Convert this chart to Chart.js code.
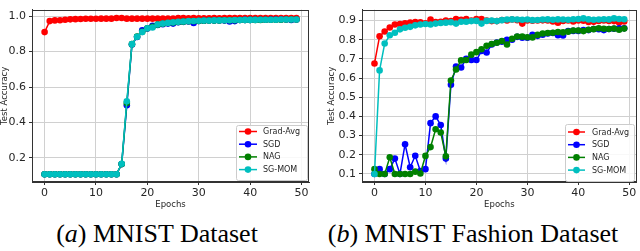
<!DOCTYPE html>
<html>
<head>
<meta charset="utf-8">
<script src="https://cdn.jsdelivr.net/npm/chart.js@4.4.1/dist/chart.umd.min.js"></script>
<style>
  html, body { margin:0; padding:0; background:#fff; }
  #wrap { position:relative; width:640px; height:251px; background:#fff; overflow:hidden; }
  canvas { position:absolute; top:0; }
  .cap { position:absolute; top:219px; height:30px; line-height:30px; font-family:"Liberation Serif","Times New Roman",serif; font-size:26px; color:#000; white-space:nowrap; transform:translateX(-50%); }
</style>
</head>
<body>
<div id="wrap">
  <canvas id="c1" width="320" height="215" style="left:0px"></canvas>
  <canvas id="c2" width="320" height="215" style="left:320px"></canvas>
  <div class="cap" style="left:157px">(<i>a</i>) MNIST Dataset</div>
  <div class="cap" style="left:473px">(<i>b</i>) MNIST Fashion Dataset</div>
</div>
<script>
// ---------- data ----------
const epochs = [0,1,2,3,4,5,6,7,8,9,10,11,12,13,14,15,16,17,18,19,20,21,22,23,24,25,26,27,28,29,30,31,32,33,34,35,36,37,38,39,40,41,42,43,44,45,46,47,48,49];
const seriesNames = ["Grad-Avg","SGD","NAG","SG-MOM"];
const xTickValues = [0,10,20,30,40,50];
const yTicksMnist = [0.2,0.4,0.6,0.8,1.0];
const yTicksFashion = [0.1,0.2,0.3,0.4,0.5,0.6,0.7,0.8,0.9];

// (a) MNIST
const mnistGradAvg = [0.910,0.972,0.976,0.977,0.980,0.982,0.983,0.984,0.985,0.985,0.985,0.986,0.986,0.986,0.990,0.990,0.986,0.986,0.986,0.986,0.986,0.986,0.986,0.986,0.987,0.987,0.990,0.990,0.988,0.990,0.988,0.988,0.988,0.989,0.988,0.989,0.989,0.989,0.989,0.989,0.989,0.989,0.989,0.989,0.989,0.989,0.989,0.989,0.989,0.990];
const mnistSGD = [0.108,0.108,0.108,0.108,0.108,0.108,0.108,0.108,0.108,0.108,0.108,0.108,0.108,0.108,0.108,0.165,0.497,0.840,0.882,0.920,0.930,0.946,0.950,0.955,0.958,0.958,0.966,0.968,0.970,0.962,0.973,0.974,0.975,0.975,0.976,0.975,0.970,0.972,0.978,0.979,0.979,0.980,0.980,0.980,0.981,0.981,0.981,0.981,0.978,0.981];
const mnistNAG = [0.108,0.108,0.108,0.108,0.108,0.108,0.108,0.108,0.108,0.108,0.108,0.108,0.108,0.108,0.108,0.165,0.510,0.842,0.885,0.912,0.932,0.940,0.952,0.957,0.961,0.964,0.967,0.969,0.971,0.972,0.973,0.974,0.975,0.975,0.976,0.977,0.977,0.977,0.978,0.978,0.979,0.979,0.979,0.980,0.980,0.980,0.980,0.981,0.981,0.981];
const mnistSGMOM = [0.108,0.108,0.108,0.108,0.108,0.108,0.108,0.108,0.108,0.108,0.108,0.108,0.108,0.108,0.108,0.167,0.520,0.842,0.884,0.910,0.932,0.936,0.953,0.958,0.962,0.965,0.968,0.970,0.972,0.973,0.974,0.975,0.975,0.976,0.976,0.977,0.977,0.978,0.978,0.979,0.979,0.979,0.980,0.980,0.980,0.980,0.981,0.981,0.981,0.981];

// (b) MNIST Fashion
const fashionGradAvg = [0.676,0.818,0.843,0.864,0.879,0.882,0.885,0.889,0.892,0.891,0.886,0.905,0.892,0.894,0.900,0.897,0.908,0.904,0.908,0.900,0.908,0.908,0.900,0.897,0.897,0.903,0.900,0.905,0.902,0.884,0.900,0.899,0.900,0.901,0.900,0.895,0.889,0.898,0.900,0.895,0.900,0.899,0.892,0.893,0.898,0.900,0.898,0.897,0.890,0.895];
const fashionSGD = [0.100,0.125,0.100,0.125,0.180,0.100,0.255,0.135,0.195,0.115,0.125,0.365,0.400,0.355,0.180,0.565,0.660,0.655,0.700,0.694,0.694,0.741,0.733,0.775,0.785,0.790,0.800,0.800,0.815,0.810,0.810,0.826,0.820,0.826,0.832,0.835,0.823,0.822,0.845,0.846,0.846,0.850,0.850,0.856,0.855,0.850,0.856,0.857,0.860,0.860];
const fashionNAG = [0.125,0.100,0.100,0.187,0.100,0.100,0.100,0.100,0.112,0.102,0.194,0.240,0.333,0.316,0.192,0.587,0.645,0.692,0.694,0.722,0.735,0.750,0.768,0.778,0.784,0.793,0.775,0.805,0.817,0.816,0.813,0.812,0.825,0.832,0.835,0.836,0.840,0.838,0.842,0.848,0.848,0.845,0.852,0.855,0.860,0.857,0.856,0.858,0.852,0.858];
const fashionSGMOM = [0.100,0.640,0.780,0.823,0.836,0.854,0.862,0.867,0.875,0.879,0.882,0.879,0.884,0.887,0.889,0.891,0.884,0.894,0.894,0.897,0.898,0.884,0.898,0.900,0.897,0.902,0.905,0.906,0.905,0.904,0.905,0.902,0.903,0.905,0.906,0.904,0.906,0.905,0.904,0.907,0.908,0.911,0.906,0.904,0.905,0.907,0.906,0.911,0.908,0.907];

// ---------- styling ----------
const colors = ["#ff0000","#0000ff","#008000","#00bfbf"];
const FONT = "'DejaVu Sans', sans-serif";
const TXT = "#262626";

const framePlugin = {
  id: 'frame',
  afterDatasetsDraw(chart) {
    const {ctx, chartArea: a} = chart;
    ctx.save();
    ctx.strokeStyle = '#333';
    ctx.lineWidth = 1;
    ctx.strokeRect(Math.round(a.left)+0.5, Math.round(a.top)+0.5, Math.round(a.right-a.left)-1, Math.round(a.bottom-a.top)-1);
    ctx.restore();
  }
};

const legendPlugin = {
  id: 'mplLegend',
  afterDraw(chart, args, opts) {
    const ctx = chart.ctx;
    ctx.save();
    const b = opts.box;
    ctx.fillStyle = 'rgba(255,255,255,0.85)';
    ctx.strokeStyle = '#cccccc';
    ctx.lineWidth = 1;
    ctx.beginPath();
    ctx.roundRect(b.x+0.5, b.y+0.5, b.w, b.h, 2);
    ctx.fill();
    ctx.stroke();
    chart.data.datasets.forEach((ds, i) => {
      const y = opts.firstRow + i * opts.rowGap;
      ctx.strokeStyle = ds.borderColor;
      ctx.lineWidth = 1.5;
      ctx.beginPath();
      ctx.moveTo(opts.lineX, y);
      ctx.lineTo(opts.lineX + opts.lineLen, y);
      ctx.stroke();
      ctx.fillStyle = ds.borderColor;
      ctx.beginPath();
      ctx.arc(opts.lineX + opts.lineLen/2, y, 3.3, 0, Math.PI*2);
      ctx.fill();
      ctx.fillStyle = TXT;
      ctx.font = "8px " + FONT;
      ctx.textBaseline = 'middle';
      ctx.textAlign = 'left';
      ctx.fillText(ds.label, opts.textX, y + 0.5);
    });
    ctx.restore();
  }
};

function makeDatasets(arrs) {
  return arrs.map((arr, i) => ({
    label: seriesNames[i],
    data: epochs.map((e, k) => ({x: e, y: arr[k]})),
    borderColor: colors[i],
    backgroundColor: colors[i],
    borderWidth: 1.5,
    pointRadius: 3.3,
    pointHoverRadius: 3.3,
    pointBorderWidth: 0,
    tension: 0,
    order: 4 - i
  }));
}

function makeChart(id, arrs, yMin, yMax, yTicks, cfg) {
  return new Chart(document.getElementById(id), {
    type: 'line',
    data: { datasets: makeDatasets(arrs) },
    options: {
      responsive: false,
      animation: false,
      devicePixelRatio: 1,
      layout: { padding: { left: 0, right: cfg.padRight, top: 1, bottom: 0 } },
      plugins: {
        legend: { display: false },
        tooltip: { enabled: false },
        mplLegend: cfg.legend
      },
      scales: {
        x: {
          type: 'linear',
          min: -2.45, max: 51.45,
          afterBuildTicks: s => { s.ticks = xTickValues.map(v => ({value: v})); },
          afterFit: s => { s.height = 33; },
          ticks: { font: { family: FONT, size: 11 }, color: TXT, padding: 2, maxRotation: 0, autoSkip: false },
          grid: { color: '#d0d0d0', lineWidth: 1, tickLength: 3, tickColor: '#333' },
          border: { display: true, color: '#333' },
          title: { display: true, text: 'Epochs', font: { family: FONT, size: 8.5 }, color: TXT, padding: { top: 0, bottom: 5 } }
        },
        y: {
          type: 'linear',
          min: yMin, max: yMax,
          afterBuildTicks: s => { s.ticks = yTicks.map(v => ({value: v})); },
          afterFit: s => { s.width = cfg.yWidth; },
          ticks: { font: { family: FONT, size: 11 }, color: TXT, padding: 3, autoSkip: false, callback: v => v.toFixed(1) },
          grid: { color: '#d0d0d0', lineWidth: 1, tickLength: 3, tickColor: '#333' },
          border: { display: true, color: '#333' },
          title: { display: true, text: 'Test Accuracy', font: { family: FONT, size: 8.5 }, color: TXT, padding: { top: cfg.yTitlePad, bottom: 0 } }
        }
      }
    },
    plugins: [framePlugin, legendPlugin]
  });
}

makeChart('c1', [mnistGradAvg, mnistSGD, mnistNAG, mnistSGMOM], 0.064, 1.037, yTicksMnist, {
  padRight: 11, yWidth: 32, yTitlePad: 0,
  legend: { box: {x: 236, y: 125, w: 71, h: 55}, firstRow: 131.5, rowGap: 12.7, lineX: 239, lineLen: 18, textX: 263 }
});

makeChart('c2', [fashionGradAvg, fashionSGD, fashionNAG, fashionSGMOM], 0.058, 0.957, yTicksFashion, {
  padRight: 3, yWidth: 42, yTitlePad: 7,
  legend: { box: {x: 245, y: 124, w: 69, h: 57}, firstRow: 132, rowGap: 12.7, lineX: 248, lineLen: 17, textX: 272 }
});
</script>
</body>
</html>
